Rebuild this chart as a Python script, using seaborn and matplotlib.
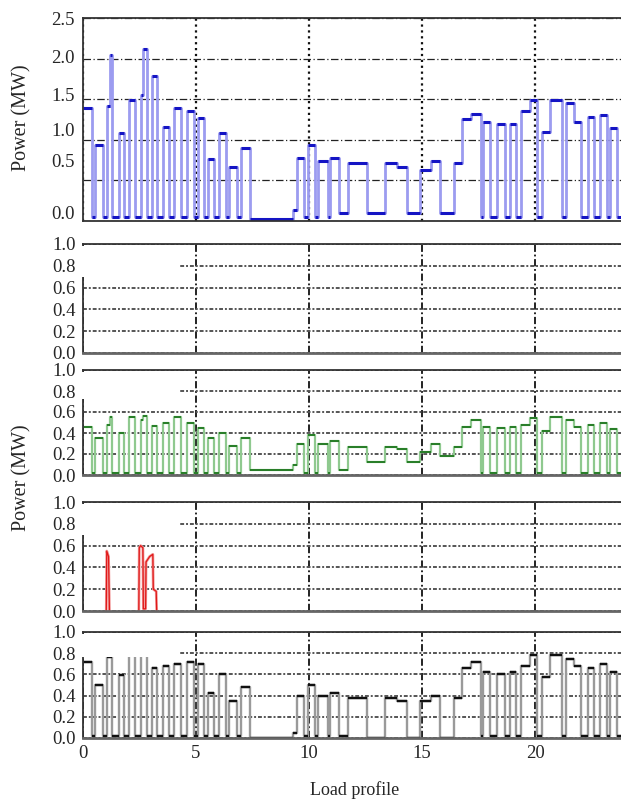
import pandas as pd
import matplotlib.pyplot as plt
import seaborn as sns
from matplotlib.patches import Rectangle

sns.set_style("white")
plt.rcParams['font.family'] = ['Liberation Serif', 'DejaVu Serif']

# switching times of the load profile (start of each step)
t_start = [0.00, 0.40, 0.53, 0.88, 1.05, 1.20, 1.30, 1.60, 1.82, 2.05,
           2.30, 2.55, 2.67, 2.85, 3.04, 3.28, 3.56, 3.80, 4.04, 4.32,
           4.59, 4.90, 5.10, 5.35, 5.55, 5.80, 6.00, 6.32, 6.47, 6.82,
           7.00, 7.40, 9.30, 9.45, 9.78, 9.97, 10.28, 10.40, 10.82, 10.93,
           11.32, 11.74, 12.58, 13.36, 13.90, 14.35, 14.90, 15.38, 15.80, 16.40,
           16.78, 17.15, 17.60, 17.70, 18.00, 18.30, 18.65, 18.89, 19.15, 19.40,
           19.77, 20.10, 20.30, 20.68, 21.20, 21.37, 21.74, 22.05, 22.35, 22.60,
           22.88, 23.20, 23.30, 23.62]

# total load (MW)
top_mw = [1.39, 0.05, 0.94, 0.05, 1.42, 2.04, 0.05, 1.08, 0.05, 1.49,
          0.05, 1.55, 2.12, 0.05, 1.79, 0.05, 1.16, 0.05, 1.39, 0.05,
          1.35, 0.05, 1.27, 0.05, 0.76, 0.05, 1.08, 0.05, 0.66, 0.05,
          0.90, 0.02, 0.14, 0.78, 0.05, 0.94, 0.05, 0.74, 0.05, 0.78,
          0.10, 0.71, 0.10, 0.71, 0.67, 0.10, 0.63, 0.74, 0.10, 0.71,
          1.26, 1.32, 0.05, 1.22, 0.05, 1.20, 0.05, 1.20, 0.05, 1.35,
          1.49, 0.05, 1.10, 1.49, 0.05, 1.45, 1.22, 0.05, 1.28, 0.05,
          1.30, 0.05, 1.14, 0.05]

# green unit (MW)
green_mw = [0.46, 0.02, 0.35, 0.02, 0.48, 0.55, 0.02, 0.40, 0.02, 0.55,
            0.02, 0.52, 0.56, 0.02, 0.47, 0.02, 0.50, 0.02, 0.55, 0.02,
            0.50, 0.02, 0.45, 0.02, 0.35, 0.02, 0.40, 0.02, 0.28, 0.02,
            0.35, 0.05, 0.10, 0.30, 0.02, 0.38, 0.02, 0.30, 0.02, 0.32,
            0.05, 0.27, 0.12, 0.27, 0.25, 0.12, 0.22, 0.30, 0.18, 0.27,
            0.46, 0.52, 0.02, 0.46, 0.02, 0.45, 0.02, 0.46, 0.02, 0.48,
            0.54, 0.02, 0.42, 0.55, 0.02, 0.52, 0.46, 0.02, 0.48, 0.02,
            0.50, 0.02, 0.44, 0.02]

# black unit (MW)
black_mw = [0.72, 0.02, 0.50, 0.02, 0.76, 0.76, 0.02, 0.59, 0.02, 0.78,
            0.02, 0.78, 0.78, 0.02, 0.66, 0.02, 0.68, 0.02, 0.70, 0.02,
            0.72, 0.02, 0.70, 0.02, 0.42, 0.02, 0.60, 0.02, 0.35, 0.02,
            0.48, 0.00, 0.05, 0.40, 0.02, 0.50, 0.02, 0.40, 0.02, 0.42,
            0.02, 0.38, 0.00, 0.38, 0.35, 0.00, 0.35, 0.40, 0.00, 0.38,
            0.66, 0.72, 0.02, 0.62, 0.02, 0.60, 0.02, 0.62, 0.02, 0.68,
            0.78, 0.02, 0.58, 0.78, 0.02, 0.75, 0.68, 0.02, 0.66, 0.02,
            0.70, 0.02, 0.62, 0.02]

# red unit (MW), only two short bursts
red_t1 = [1.03, 1.05, 1.13, 1.17]
red_mw1 = [0.00, 0.55, 0.50, 0.00]
red_t2 = [2.47, 2.49, 2.55, 2.65, 2.67, 2.77, 2.79, 2.95, 3.09, 3.11, 3.24, 3.26]
red_mw2 = [0.00, 0.58, 0.60, 0.58, 0.02, 0.02, 0.45, 0.50, 0.52, 0.20, 0.18, 0.00]

t_end = 24.07
x_ticks = [0, 5, 10, 15, 20]
top_ticks = [0.0, 0.5, 1.0, 1.5, 2.0, 2.5]
top_labels = ['0.0', '0.5', '1.0', '1.5', '2.0', '2.5']
top_label_pos = [0.11, 0.74, 1.13, 1.56, 2.02, 2.49]   # where the labels sit in the scan
small_ticks = [0.0, 0.2, 0.4, 0.6, 0.8, 1.0]
small_labels = ['0.0', '0.2', '0.4', '0.6', '0.8', '1.0']

fig = plt.figure(figsize=(6.21, 8.0), dpi=100)
W = 544 / 621
L = 83 / 621
ax1 = fig.add_axes([L, 1 - 221 / 800, W, 203 / 800])
ax2 = fig.add_axes([L, 1 - 353 / 800, W, 109 / 800])
ax3 = fig.add_axes([L, 1 - 475 / 800, W, 105 / 800])
ax4 = fig.add_axes([L, 1 - 611 / 800, W, 109 / 800])
ax5 = fig.add_axes([L, 1 - 738 / 800, W, 106 / 800])


def steps(ax, t, p, light, dark, lw_light, lw_dark):
    # light trace for the switching edges, dark bars for the plateaus
    df = pd.DataFrame({'t': list(t) + [t_end], 'p': list(p) + [p[-1]]})
    sns.lineplot(data=df, x='t', y='p', ax=ax, color=light, lw=lw_light,
                 drawstyle='steps-post', sort=False, estimator=None)
    ax.hlines(p, t, list(t[1:]) + [t_end], colors=dark, lw=lw_dark, zorder=2.2)


steps(ax1, t_start, top_mw, '#9c9cf0', '#1414c4', 2.0, 2.2)
steps(ax3, t_start, green_mw, '#8fc98f', '#1f771f', 1.6, 1.3)
steps(ax5, t_start, black_mw, '#9a9a9a', '#101010', 1.7, 1.7)
for rt, rp in [(red_t1, red_mw1), (red_t2, red_mw2)]:
    df = pd.DataFrame({'t': rt, 'p': rp})
    sns.lineplot(data=df, x='t', y='p', ax=ax4, color='#f29a9a', lw=2.0,
                 sort=False, estimator=None)
    sns.lineplot(data=df, x='t', y='p', ax=ax4, color='#e01818', lw=0.9,
                 sort=False, estimator=None)

# top panel
ax1.set_ylim(0, 2.5)
ax1.set_yticks(top_ticks)
ax1.set_yticklabels([])
ax1.set_yticks(top_label_pos, top_labels, minor=True)
ax1.tick_params(axis='y', which='minor', length=0, labelsize=13.5, pad=6)
ax1.tick_params(axis='y', which='major', length=2, color='#555')
ax1.yaxis.grid(True, which='major', ls=(0, (6, 2, 1, 2)), color='#222', lw=0.9)
ax1.xaxis.grid(True, ls=':', color='#111', lw=1.6)

lower = [ax2, ax3, ax4, ax5]
box_bottom = [0.70, 0.72, 0.70, 0.76]
for ax, yb in zip(lower, box_bottom):
    ax.set_ylim(0, 1.0)
    ax.set_yticks(small_ticks, small_labels)
    ax.tick_params(axis='y', length=0, labelsize=13.5, pad=5)
    ax.yaxis.grid(True, ls=(0, (2, 1, 1, 1)), color='#555', lw=1.4)
    ax.xaxis.grid(True, ls=(0, (4, 1.5, 1, 1.5)), color='#111', lw=1.3)
    ax.add_patch(Rectangle((-0.006, yb), 0.184, 0.985 - yb, transform=ax.transAxes,
                           facecolor='white', edgecolor='none', zorder=3, clip_on=False))

for ax in [ax1] + lower:
    ax.set_xlim(0, t_end)
    ax.set_xticks(x_ticks)
    ax.set_xlabel('')
    ax.set_ylabel('')
    for s in ['top', 'left', 'bottom']:
        ax.spines[s].set_color('#333')
        ax.spines[s].set_linewidth(1.3)
    ax.spines['right'].set_visible(False)
    if ax is not ax5:
        ax.tick_params(axis='x', labelbottom=False, length=0)
for ax in lower:
    ax.spines['bottom'].set_color('#666')
    ax.spines['bottom'].set_linewidth(2.0)

ax5.set_xticks(x_ticks, [str(v) for v in x_ticks])
ax5.tick_params(axis='x', length=0, labelsize=13.5, pad=5)

fig.text(22 / 621, 1 - 118 / 800, 'Power (MW)', rotation=90, ha='center', va='center', fontsize=14.5)
fig.text(22 / 621, 1 - 478 / 800, 'Power (MW)', rotation=90, ha='center', va='center', fontsize=14.5)
fig.text(355 / 621, 1 - 790 / 800, 'Load profile', ha='center', va='center', fontsize=13)

fig.savefig('out.png', dpi=100, facecolor='white')
